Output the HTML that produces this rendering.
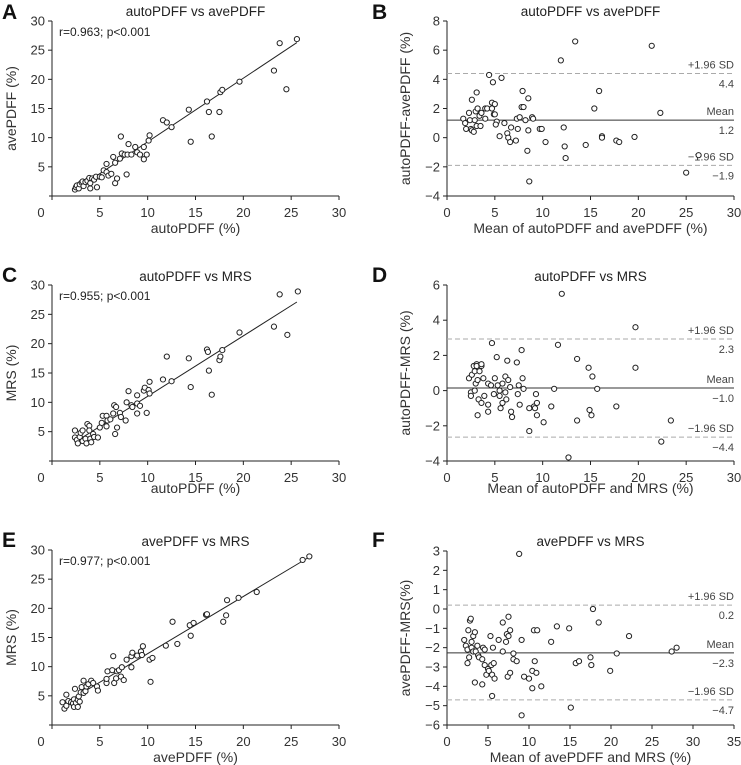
<!DOCTYPE html>
<html><head><meta charset="utf-8"><style>
html,body{margin:0;padding:0;background:#fff;}
svg{display:block;font-family:"Liberation Sans",sans-serif;}
</style></head><body>
<svg id="fig" width="741" height="765" viewBox="0 0 741 765"></svg>
<script>
// ---- data ----
const aPts=[[2.4,1.1],[2.5,1.5],[2.6,1.8],[2.8,1.3],[2.9,2.0],[3.1,2.3],[3.3,1.7],[3.2,2.5],[3.5,2.4],[3.7,2.6],[3.9,3.1],[4.0,1.3],[4.0,2.2],[4.2,3.0],[4.4,2.8],[4.6,3.3],[4.7,1.5],[5.0,3.3],[5.2,3.2],[5.4,4.4],[5.7,4.1],[5.7,5.5],[5.9,3.5],[6.2,3.8],[6.4,6.7],[6.6,5.7],[6.6,2.2],[6.8,3.0],[7.1,6.4],[7.2,10.2],[7.3,7.3],[7.6,7.1],[7.8,3.7],[7.9,7.1],[8.0,8.9],[8.3,7.1],[8.7,8.4],[8.9,7.5],[9.2,7.1],[9.6,6.3],[9.6,8.4],[9.9,7.1],[10.1,9.5],[10.2,10.4],[11.6,13.0],[12.0,12.6],[12.5,11.8],[14.3,14.8],[14.5,9.3],[16.2,16.2],[16.4,14.4],[16.7,10.2],[17.5,14.4],[17.6,17.8],[17.8,18.2],[19.6,19.6],[23.2,21.5],[23.8,26.2],[24.5,18.3],[25.6,26.9]];
const aFit=[[2.4,1.0],[25.6,26.3]];
const bPts=[[1.7,1.3],[1.9,1.0],[2.0,0.6],[2.3,1.7],[2.4,1.2],[2.5,0.6],[2.6,2.6],[2.6,0.5],[2.9,1.2],[3.0,1.8],[3.1,0.8],[3.1,3.1],[3.2,2.0],[3.4,1.5],[3.6,1.7],[3.5,0.8],[2.8,0.4],[4.0,1.3],[4.0,2.0],[4.2,2.0],[4.4,4.3],[4.7,2.0],[4.7,2.4],[4.8,3.8],[4.9,1.6],[5.0,2.3],[5.0,1.6],[5.2,1.1],[5.1,0.9],[5.5,0.1],[5.7,4.1],[6.0,1.0],[6.3,0.3],[6.4,0.0],[6.6,-0.3],[6.7,0.7],[7.2,-0.2],[7.4,0.6],[7.3,1.3],[7.6,1.4],[7.8,2.1],[8.0,2.1],[7.9,3.2],[8.2,1.2],[8.4,-0.9],[8.5,2.7],[8.5,0.5],[8.6,-3.0],[8.9,1.4],[9.0,1.3],[9.7,0.6],[9.9,0.6],[10.3,-0.3],[11.9,5.3],[12.2,0.7],[12.3,-0.6],[12.4,-1.4],[13.4,6.6],[14.5,-0.5],[15.4,2.0],[15.9,3.2],[16.2,0.1],[16.2,0.0],[17.7,-0.2],[18.0,-0.3],[19.6,0.05],[21.4,6.3],[22.3,1.7],[25.0,-2.4],[26.3,-1.2]];
const bLines=[4.4,1.2,-1.9];
const bLabels=["4.4","1.2","\u22121.9"];
const cPts=[[2.4,5.2],[2.4,4.0],[2.6,3.6],[2.7,3.0],[2.9,4.1],[3.0,4.8],[3.2,5.2],[3.2,3.4],[3.5,3.8],[3.6,3.0],[3.7,6.3],[3.9,6.0],[4.0,3.8],[4.1,3.2],[3.9,5.2],[4.3,4.6],[4.4,4.1],[4.8,4.0],[5.0,5.7],[5.2,6.5],[5.3,7.7],[5.7,7.7],[5.7,5.9],[5.8,6.9],[6.1,7.1],[6.4,8.1],[6.5,9.5],[6.7,9.2],[6.6,4.6],[6.8,5.7],[7.1,8.2],[7.2,7.5],[7.7,6.9],[7.8,10.0],[8.0,11.9],[8.3,9.5],[8.4,9.2],[8.9,9.8],[8.9,8.1],[8.9,11.2],[9.2,9.4],[9.6,12.0],[9.7,12.5],[9.9,8.2],[10.1,12.1],[10.2,13.5],[10.2,11.5],[11.6,13.9],[12.0,17.8],[12.5,13.6],[14.3,17.5],[14.5,12.6],[16.2,19.0],[16.3,18.6],[16.4,15.4],[16.7,11.3],[17.5,17.2],[17.6,17.8],[17.8,18.9],[19.6,21.9],[23.2,22.9],[23.8,28.4],[24.6,21.5],[25.7,28.9]];
const cFit=[[2.4,3.2],[25.6,27.1]];
const dPts=[[2.3,0.7],[2.5,-0.1],[2.5,-0.3],[2.6,0.9],[2.8,1.4],[2.9,1.1],[2.9,0.0],[3.0,0.4],[3.1,1.5],[3.1,1.4],[3.2,0.6],[3.2,-1.4],[3.3,-0.5],[3.4,1.1],[3.6,1.4],[3.6,-0.7],[3.6,1.5],[3.8,0.7],[3.9,-0.3],[4.3,0.4],[4.3,-1.2],[4.3,-0.8],[4.6,0.3],[4.7,2.7],[4.9,-0.2],[5.0,0.7],[5.2,1.9],[5.3,0.3],[5.5,0.0],[5.5,-0.3],[5.6,-1.0],[5.8,0.4],[5.8,-0.7],[6.1,0.8],[6.1,-0.1],[6.2,-0.5],[6.3,1.7],[6.4,0.6],[6.6,0.2],[6.7,-1.2],[6.8,-1.5],[7.3,1.6],[7.4,-0.2],[7.5,0.3],[7.6,-0.8],[7.8,2.3],[7.9,0.7],[8.0,0.1],[8.6,-2.3],[8.6,-1.0],[9.1,-0.9],[9.2,-1.0],[9.3,-0.2],[9.4,-0.7],[9.4,-1.4],[10.1,-1.8],[10.9,-0.9],[11.2,0.1],[11.6,2.6],[12.0,5.5],[12.7,-3.8],[13.6,1.8],[13.6,-1.7],[14.8,1.3],[14.9,-1.1],[15.1,-1.4],[15.2,0.8],[15.7,0.1],[17.7,-0.9],[19.7,3.6],[19.7,1.3],[22.4,-2.9],[23.4,-1.7]];
const dLines=[2.93,0.15,-2.64];
const dLabels=["2.3","\u22121.0","\u22124.4"];
const ePts=[[1.1,3.9],[1.3,2.8],[1.5,5.2],[1.5,3.3],[1.7,4.1],[2.0,3.9],[2.2,3.7],[2.3,4.4],[2.3,3.1],[2.4,6.2],[2.5,3.8],[2.7,4.3],[2.7,3.1],[2.8,4.9],[2.9,4.0],[3.0,5.6],[3.1,6.5],[3.3,7.6],[3.3,5.5],[3.5,5.8],[3.6,6.6],[3.8,7.0],[4.1,7.6],[4.3,7.2],[4.7,6.6],[4.8,5.9],[5.7,7.2],[5.7,7.9],[5.8,9.2],[6.3,9.4],[6.4,11.8],[6.5,7.2],[6.7,8.0],[6.8,9.2],[7.0,9.4],[7.2,8.3],[7.3,9.9],[7.5,7.7],[7.8,11.2],[8.3,11.8],[8.3,9.9],[8.4,12.4],[8.9,11.9],[9.3,12.6],[9.4,12.0],[9.5,13.5],[10.2,11.2],[10.3,7.4],[10.5,11.5],[11.9,13.6],[12.6,17.7],[13.1,13.9],[14.4,17.1],[14.5,15.3],[14.8,17.5],[16.1,18.9],[16.2,19.0],[17.9,17.7],[18.2,18.8],[18.3,21.4],[19.5,21.8],[21.4,22.8],[26.2,28.3],[26.9,28.9]];
const eFit=[[1.4,3.8],[26.9,28.8]];
const fPts=[[2.1,-1.6],[2.3,-1.9],[2.5,-2.1],[2.5,-2.8],[2.6,-1.1],[2.7,-2.5],[2.8,-0.6],[2.9,-0.5],[3.0,-2.0],[3.0,-1.7],[3.2,-1.4],[3.2,-2.2],[3.4,-3.8],[3.4,-1.2],[3.5,-2.2],[3.7,-1.9],[3.8,-2.4],[3.9,-2.5],[4.3,-2.6],[4.3,-3.9],[4.4,-2.0],[4.6,-2.1],[4.6,-2.9],[4.8,-3.4],[5.0,-3.1],[5.1,-3.2],[5.3,-1.4],[5.4,-2.9],[5.5,-4.5],[5.5,-3.4],[5.6,-2.0],[5.7,-2.8],[5.8,-3.6],[6.3,-1.6],[6.8,-0.7],[6.8,-2.2],[7.2,-1.7],[7.3,-1.3],[7.4,-3.5],[7.5,-1.4],[7.5,-0.4],[7.7,-1.1],[7.7,-3.3],[8.1,-2.3],[8.1,-2.6],[8.5,-2.7],[8.8,2.85],[9.1,-1.6],[9.1,-5.5],[9.4,-3.5],[10.0,-3.6],[10.4,-3.2],[10.4,-4.1],[10.6,-1.1],[10.7,-2.7],[10.9,-3.3],[11.0,-1.1],[11.5,-4.0],[12.7,-1.7],[13.4,-0.9],[14.9,-1.0],[15.1,-5.1],[15.7,-2.8],[16.1,-2.7],[17.5,-2.5],[17.6,-2.9],[17.8,0.0],[18.5,-0.7],[19.9,-3.2],[20.7,-2.3],[22.2,-1.4],[27.4,-2.2],[28.0,-2.0]];
const fLines=[0.2,-2.27,-4.7];
const fLabels=["0.2","\u22122.3","\u22124.7"];
const xTicks30=[0,5,10,15,20,25,30];
const xTicks35=[0,5,10,15,20,25,30,35];
const yTicksCorr=[5,10,15,20,25,30];
const yTicksB=[-4,-2,0,2,4,6,8];
const yTicksD=[-4,-2,0,2,4,6];
const yTicksF=[-6,-5,-4,-3,-2,-1,0,1,2,3];

const NS="http://www.w3.org/2000/svg";
const svg=document.getElementById('fig');
function mk(tag,attrs,parent,text){const e=document.createElementNS(NS,tag);for(const k in attrs)e.setAttribute(k,attrs[k]);if(text!==undefined)e.textContent=text;(parent||svg).appendChild(e);return e;}

function panel(o){
  const g=mk('g',{});
  
  
  const sx=v=>o.x0+(v-o.xmin)/(o.xmax-o.xmin)*(o.x1-o.x0);
  const sy=v=>o.yb-(v-o.ymin)/(o.ymax-o.ymin)*(o.yb-o.yt);
  const L=mk('text',{x:o.letterX,y:o.letterY,'font-size':21,'font-weight':'bold',fill:'#111'},g,o.letter);
  
  
  const T=mk('text',{x:(o.x0+o.x1)/2,y:o.titleY,'font-size':13.5,'text-anchor':'middle',fill:'#222'},g,o.title);
  
  
  const ax=mk('path',{d:`M${o.x0-3},${o.yb}H${o.x1}M${o.x0},${o.yb}V${o.yt}`,stroke:'#222','stroke-width':1,fill:'none'},g);
  
  
  o.xt.forEach(v=>{
    mk('line',{x1:sx(v),x2:sx(v),y1:o.yb,y2:o.yb+4,stroke:'#222'},g);
    const lx=(o.zeroShift&&v===0)?o.x0-11:sx(v);
    const t=mk('text',{x:lx,y:o.yb+21,'font-size':13,'text-anchor':'middle',fill:'#333'},g,String(v));
    
    
  });
  o.yt_.forEach(v=>{
    mk('line',{x1:o.x0-4,x2:o.x0,y1:sy(v),y2:sy(v),stroke:'#222'},g);
    const t=mk('text',{x:o.x0-7,y:sy(v)+4.5,'font-size':13,'text-anchor':'end',fill:'#333'},g,v<0?'\u2212'+(-v):String(v));
    
    
  });
  const xl=mk('text',{x:(o.x0+o.x1)/2,y:o.xlabY,'font-size':14,'text-anchor':'middle',fill:'#333'},g,o.xlab);
  
  
  const cy=(o.yb+o.yt)/2;
  const yl=mk('text',{x:o.ylabX,y:cy,'font-size':14,'text-anchor':'middle',fill:'#333',transform:`rotate(-90 ${o.ylabX} ${cy})`},g,o.ylab);
  
  
  if(o.fit){
    const f=mk('line',{x1:sx(o.fit[0][0]),y1:sy(o.fit[0][1]),x2:sx(o.fit[1][0]),y2:sy(o.fit[1][1]),stroke:'#222','stroke-width':1},g);
    
    
    const r=mk('text',{x:o.x0+7,y:o.yt+15,'font-size':12,fill:'#222'},g,o.rtext);
    
    
  }
  if(o.lines){
    const tops=['+1.96 SD','Mean','\u22121.96 SD'];
    o.lines.forEach((v,i)=>{
      const ln=mk('line',{x1:o.x0,x2:o.x1,y1:sy(v),y2:sy(v),stroke:i===1?'#333':'#aaa','stroke-width':1,'stroke-dasharray':i===1?'none':'5,3'},g);
      
      
      const a=mk('text',{x:o.x1,y:sy(v)-5,'font-size':11,'text-anchor':'end',fill:'#444'},g,tops[i]);
      
      
      const b=mk('text',{x:o.x1,y:sy(v)+14,'font-size':11,'text-anchor':'end',fill:'#444'},g,o.lineLabels[i]);
      
      
    });
  }
  o.pts.forEach(p=>{
    const c=mk('circle',{cx:sx(p[0]),cy:sy(p[1]),r:2.6,fill:'#fff',stroke:'#222','stroke-width':1},g);
    
    
  });
}
const L={x0:52,x1:339,xmin:0,xmax:30,ymin:0,ymax:30,xt:xTicks30,yt_:yTicksCorr,zeroShift:true,ylabX:16,letterX:2};
const R={x0:447,x1:734,xmin:0,xmax:30,ylabX:410,letterX:372};
panel(Object.assign({},L,{letter:'A',letterY:19,title:'autoPDFF vs avePDFF',titleY:16,yb:196,yt:21,xlab:'autoPDFF (%)',xlabY:233,ylab:'avePDFF (%)',pts:aPts,fit:aFit,rtext:'r=0.963; p<0.001'}));
panel(Object.assign({},R,{letter:'B',letterY:19,title:'autoPDFF vs avePDFF',titleY:16,yb:196,yt:21,ymin:-4,ymax:8,xt:xTicks30,yt_:yTicksB,xlab:'Mean of autoPDFF and avePDFF (%)',xlabY:233,ylab:'autoPDFF-avePDFF (%)',pts:bPts,lines:bLines,lineLabels:bLabels}));
panel(Object.assign({},L,{letter:'C',letterY:282,title:'autoPDFF vs MRS',titleY:281,yb:461,yt:285,xlab:'autoPDFF (%)',xlabY:493,ylab:'MRS (%)',pts:cPts,fit:cFit,rtext:'r=0.955; p<0.001'}));
panel(Object.assign({},R,{letter:'D',letterY:282,title:'autoPDFF vs MRS',titleY:281,yb:461,yt:285,ymin:-4,ymax:6,xt:xTicks30,yt_:yTicksD,xlab:'Mean of autoPDFF and MRS (%)',xlabY:493,ylab:'autoPDFF-MRS (%)',pts:dPts,lines:dLines,lineLabels:dLabels}));
panel(Object.assign({},L,{letter:'E',letterY:547,title:'avePDFF vs MRS',titleY:546,yb:725,yt:550,xlab:'avePDFF (%)',xlabY:762,ylab:'MRS (%)',pts:ePts,fit:eFit,rtext:'r=0.977; p<0.001'}));
panel(Object.assign({},R,{letter:'F',letterY:547,title:'avePDFF vs MRS',titleY:546,yb:725,yt:551,xmax:35,ymin:-6,ymax:3,xt:xTicks35,yt_:yTicksF,xlab:'Mean of avePDFF and MRS (%)',xlabY:762,ylab:'avePDFF-MRS(%)',pts:fPts,lines:fLines,lineLabels:fLabels}));
</script>
</body></html>
